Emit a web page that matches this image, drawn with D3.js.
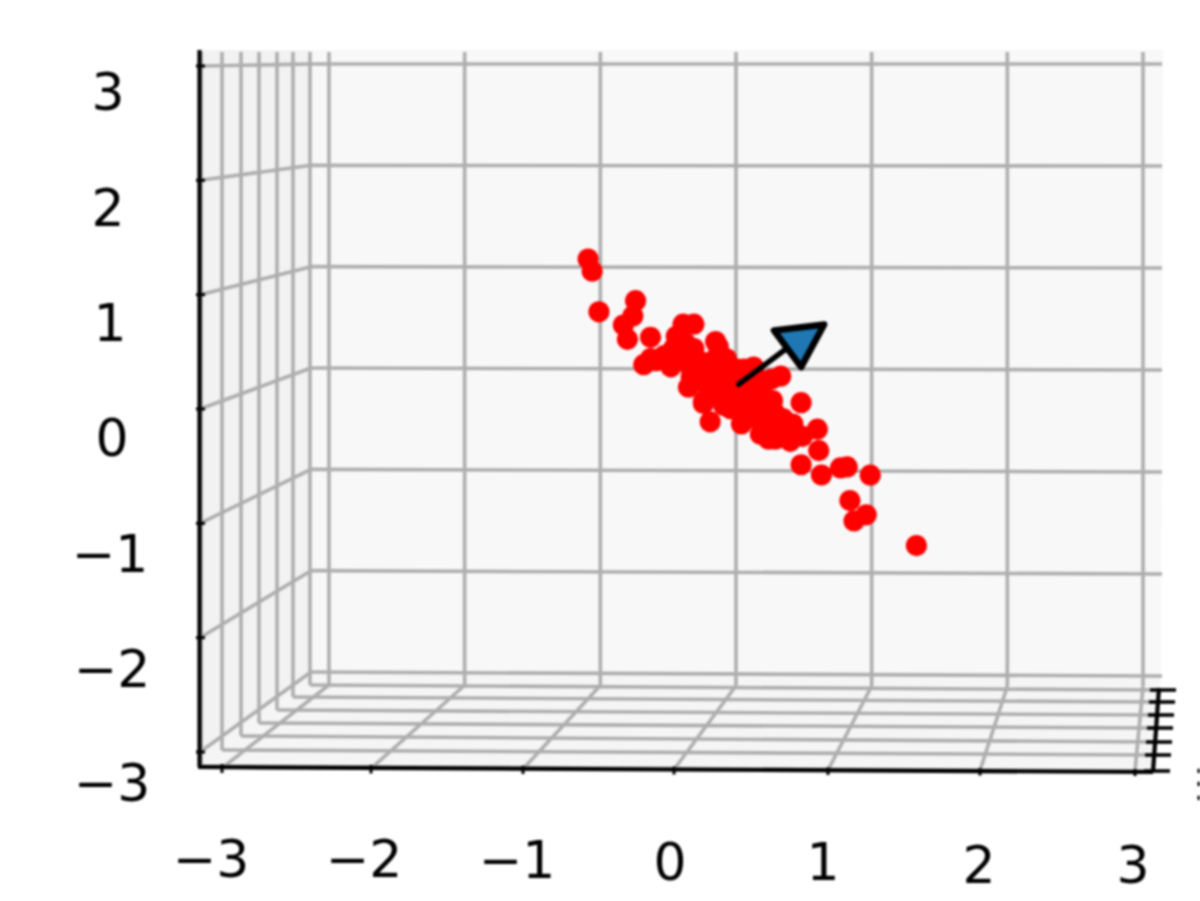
<!DOCTYPE html>
<html><head><meta charset="utf-8">
<script src="https://cdn.jsdelivr.net/npm/d3@7/dist/d3.min.js"></script>
<style>html,body{margin:0;padding:0;background:#fff;overflow:hidden}svg{display:block;filter:blur(0.8px)}text{font-family:"DejaVu Sans";font-size:52px;fill:#000}</style>
</head><body><svg id="c" width="1200" height="901"></svg>
<script>
const ticks=[-3,-2,-1,0,1,2,3];
const pointX=[-1.09,-1.06,-1.01,-.74,-.76,-.83,-.80,-.63,-.68,-.39,-.31,-.44,-.15,-.13,-.59,-.48,-.35,-.24,-.19,.04,-.09,-.40,-.31,-.26,-.16,-.06,.06,.01,-.53,-.21,-.11,-.01,.09,.13,.33,.26,.48,.27,.60,.42,.61,.48,.63,.77,.82,.99,.84,.96,.87,1.33,.24,.40,.31,.21,.35,.43,.49,-.24,.18,-.09,-.33,-.26,-.18,-.04,.11,.18,.29,.26,-.37,-.46,-.63,-.33,-.15,-.07,.03,.15,.22,.07,0,-.07,-.17,-.26,-.33,-.40,.15,.22,.15,.07,0,.22,.33,.18,.15,.29];
const pointY=[1.08,.96,.56,.67,.52,.43,.29,.31,.04,.44,.44,.32,.27,.22,.08,.02,-.18,-.34,-.52,-.54,-.36,.17,.20,.07,-.03,-.13,0,0,.13,-.17,-.23,-.26,-.26,.02,-.07,-.10,-.33,-.31,-.59,-.54,-.80,-.94,-1.04,-.97,-.96,-1.04,-1.29,-1.43,-1.49,-1.73,-.69,-.71,-.61,-.51,-.49,-.62,-.66,-.32,-.29,-.07,-.08,-.10,-.25,-.39,-.39,-.44,-.69,-.54,.25,.20,.10,.08,.05,.10,-.15,-.18,-.42,-.02,-.05,-.02,.08,-.02,0,.08,-.08,-.12,-.25,-.39,-.34,-.59,-.64,-.64,-.49,-.44];
const arrowTail=[.02,-.15], arrowNeck=[.37,.2], arrowTip=[.65,.44], arrowLeft=[.28,.38], arrowRight=[.48,.02];
const minusLabels=[-3,-2,-1];

const svg=d3.select("#c"), fmt=v=>String(v).replace("-","\u2212");
const G="#aeaeae";
const bx=d3.scaleLinear([-3,3],[329,1143]);
const byL=d3.scaleLinear([-3,3],[672,64]), byR=d3.scaleLinear([-3,3],[676,64]);
const BL=311,BR=1162;
const by=(px,v)=>byL(v)+(byR(v)-byL(v))*(px-BL)/(BR-BL);
const P=(x,y)=>{const px=bx(x);return [px,by(px,y)]};
const dx=d3.scaleLinear(ticks,[201,222,241,259,277,293,310]);
const dFloorL=d3.scaleLinear(ticks,[766,750,736,723,710,697,685]);
const dFloorR=d3.scaleLinear(ticks,[771,755,742,728,715,702,690]);
const dRight=d3.scaleLinear(ticks,[1153,1154,1155,1156,1157,1158,1159]);
const zL=d3.scaleLinear([-3,3],[752,66]);
const fx=d3.scaleLinear(ticks,[222,371,523,674,828,980,1135]);
const line=(a,b,c,w)=>svg.append("line").attr("x1",a[0]).attr("y1",a[1]).attr("x2",b[0]).attr("y2",b[1]).attr("stroke",c).attr("stroke-width",w);
const poly=(p,c)=>svg.append("polygon").attr("points",p.join(" ")).attr("fill",c);

poly([[311,50],[1163,50],[1161,675],[311,672]],"#f8f8f8");
poly([[200,50],[311,50],[311,672],[200,754]],"#f2f2f2");
poly([[311,672],[1161,675],[1153,772],[200,767],[200,754]],"#f5f5f5");

ticks.forEach(t=>{
  line([bx(t),52],[bx(t),685+(t+3)/6*1.5],G,3.6);
  line([bx(t),685+(t+3)/6*1.5],[fx(t),768+(t+3)/6*3],G,3.6);
  line([BL,by(BL,t)],[BR,by(BR,t)],G,3.6);
  line([200,zL(t)],[BL,by(BL,t)],G,3.6);
  line([dx(t),52],[dx(t),dFloorL(t)],G,3.6);
  line([dx(t),dFloorL(t)],[dRight(t),dFloorR(t)],G,3.6);
});

line([199.5,50],[199.5,767],"#000",4.2);
line([198,767],[1153,772],"#000",4.2);
line([1159,688],[1153,772],"#000",4.2);
ticks.forEach(t=>{
  line([196,zL(t)],[205,zL(t)],"#000",3);
  line([fx(t),764+(t+3)/6*5],[fx(t),773+(t+3)/6*3],"#000",3);
  line([dRight(t)-9,dFloorR(t)],[dRight(t)+17,dFloorR(t)],"#000",3.6);
});

const zLabelX=d3.scaleOrdinal(ticks,[112,112,110,112,110,108,108]);
const zLabelY=d3.scaleOrdinal(ticks,[782,668,553,437,322,207,91]);
svg.selectAll(".zl").data(ticks).join("text").attr("class","zl").attr("text-anchor","middle")
  .attr("x",zLabelX).attr("y",d=>zLabelY(d)+19).text(fmt);
const xLabelX=d3.scaleOrdinal(ticks,[211,364,517,670,823,979,1133]);
const xLabelY=d3.scaleOrdinal(ticks,[858,858,859,861,861,864,864]);
svg.selectAll(".xl").data(ticks).join("text").attr("class","xl").attr("text-anchor","middle")
  .attr("x",xLabelX).attr("y",d=>xLabelY(d)+19).text(fmt);
const rLabelY=d3.scaleOrdinal(minusLabels,[795,781,768]);
svg.selectAll(".rl").data(minusLabels).join("text").attr("class","rl")
  .attr("x",1192).attr("y",d=>rLabelY(d)+19).text(fmt);

svg.selectAll(".pt").data(pointX.map((x,i)=>P(x,pointY[i]))).join("circle").attr("class","pt")
  .attr("cx",d=>d[0]).attr("cy",d=>d[1]).attr("r",10.6).attr("fill","#ff0000");

line(P(...arrowTail),P(...arrowNeck),"#000",5.5).attr("stroke-linecap","round");
svg.append("polygon").attr("points",[arrowLeft,arrowTip,arrowRight].map(a=>P(...a)).join(" "))
  .attr("fill","#1f77b4").attr("stroke","#000").attr("stroke-width",6.5).attr("stroke-linejoin","round");
</script></body></html>
